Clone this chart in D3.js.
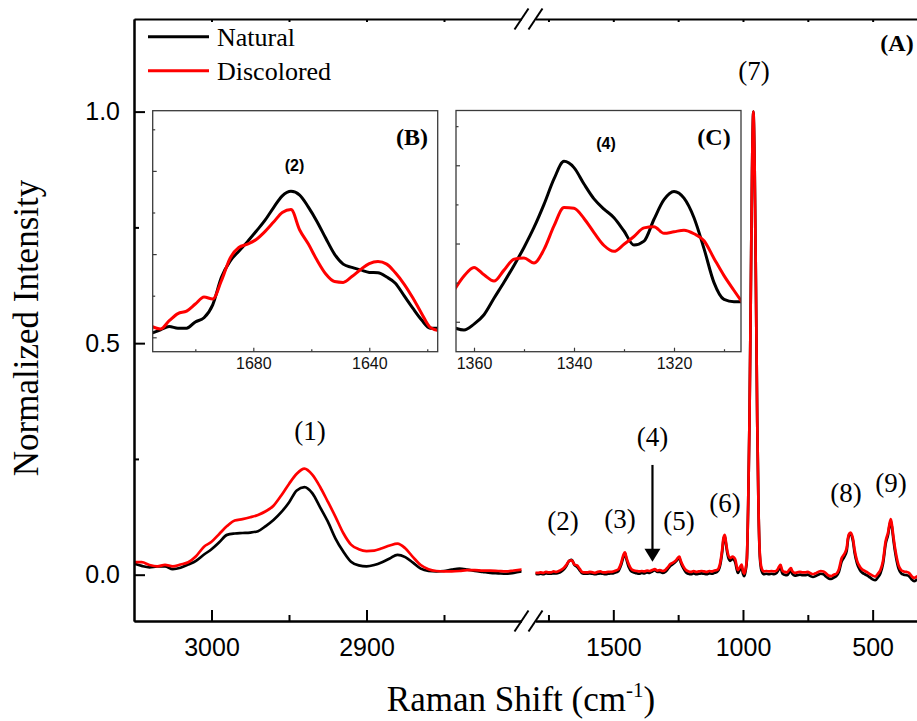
<!DOCTYPE html>
<html><head><meta charset="utf-8">
<script src="https://cdn.jsdelivr.net/npm/d3@7"></script>
<style>
html,body{margin:0;padding:0;background:#fff;}
svg{display:block;}
</style></head><body>
<svg id="chart" width="917" height="721"></svg>
<script>
// ---------------- DATA ----------------
const seriesNames = ["Natural", "Discolored"];
const seriesColors = ["#000000", "#ff0000"];

// Main panel, high-wavenumber segment (cm-1)
const leftWn = [3050,3045,3040,3035,3030,3025,3020,3015,3010,3005,3000,2995,2990,2985,2980,2975,2970,2965,2960,2955,2950,2945,2940,2935,2930,2925,2920,2915,2910,2905,2900,2895,2890,2885,2880,2875,2870,2865,2860,2855,2850,2845,2840,2835,2830,2825,2820,2815,2810,2805,2800];
const leftNatural = [0.024,0.019,0.016,0.018,0.018,0.012,0.015,0.022,0.030,0.043,0.055,0.070,0.086,0.089,0.090,0.091,0.094,0.105,0.118,0.135,0.156,0.182,0.189,0.176,0.146,0.115,0.078,0.050,0.028,0.020,0.018,0.021,0.027,0.035,0.043,0.038,0.026,0.013,0.008,0.007,0.008,0.011,0.013,0.011,0.008,0.006,0.004,0.003,0.002,0.004,0.007];
const leftDiscolored = [0.027,0.027,0.021,0.018,0.021,0.018,0.022,0.027,0.040,0.060,0.071,0.088,0.105,0.117,0.120,0.124,0.129,0.137,0.149,0.171,0.196,0.218,0.229,0.216,0.190,0.158,0.125,0.090,0.065,0.055,0.051,0.052,0.057,0.063,0.067,0.057,0.038,0.021,0.012,0.008,0.007,0.007,0.008,0.010,0.010,0.009,0.009,0.008,0.007,0.009,0.011];

// Main panel, fingerprint segment (cm-1)
const rightWn = [1800,1790,1780,1770,1760,1750,1740,1730,1720,1710,1700,1690,1680,1670,1660,1650,1640,1630,1620,1610,1600,1590,1580,1570,1560,1550,1540,1530,1520,1510,1500,1490,1480,1470,1460,1455,1450,1440,1430,1420,1410,1400,1390,1380,1370,1360,1350,1340,1330,1320,1310,1300,1290,1280,1270,1260,1250,1245,1240,1230,1220,1210,1200,1190,1180,1170,1160,1150,1140,1130,1120,1110,1100,1090,1080,1075,1070,1065,1060,1050,1040,1030,1020,1010,1005,1000,995,990,985,980,975,970,965,960,955,950,945,940,935,930,925,920,910,900,890,880,870,860,855,850,845,840,830,820,815,810,800,790,780,770,760,750,740,730,720,710,700,690,680,670,660,650,640,630,620,610,600,595,590,585,580,575,570,560,550,540,530,520,510,500,490,480,470,460,450,440,435,430,425,420,410,400,390,380,370,360,350,340,330];
const rightDiscolored = [0.004,0.004,0.005,0.004,0.006,0.005,0.005,0.007,0.006,0.008,0.011,0.015,0.022,0.030,0.031,0.022,0.020,0.013,0.006,0.005,0.005,0.006,0.005,0.004,0.006,0.007,0.005,0.005,0.006,0.006,0.007,0.009,0.012,0.025,0.044,0.048,0.038,0.022,0.012,0.009,0.008,0.007,0.008,0.007,0.009,0.008,0.010,0.012,0.009,0.010,0.008,0.010,0.016,0.023,0.026,0.030,0.037,0.039,0.030,0.018,0.010,0.007,0.006,0.008,0.006,0.007,0.008,0.007,0.006,0.008,0.007,0.009,0.010,0.020,0.055,0.080,0.086,0.068,0.050,0.036,0.039,0.033,0.010,0.018,0.022,0.008,0.002,0.012,0.035,0.150,0.330,0.600,0.870,1.000,0.880,0.620,0.330,0.140,0.045,0.018,0.010,0.007,0.008,0.007,0.008,0.007,0.009,0.018,0.021,0.012,0.007,0.006,0.005,0.012,0.014,0.008,0.004,0.005,0.006,0.005,0.005,0.006,0.003,0.001,0.003,0.006,0.008,0.007,0.003,-0.002,-0.003,0.000,0.002,0.012,0.035,0.044,0.058,0.080,0.089,0.091,0.086,0.075,0.055,0.030,0.018,0.011,0.008,0.005,0.001,-0.002,-0.004,0.002,0.010,0.030,0.072,0.093,0.110,0.120,0.105,0.082,0.045,0.020,0.010,0.007,0.006,0.004,-0.003,-0.007,-0.004];
const rightNatural = [0.002,0.001,0.002,0.001,0.003,0.002,0.002,0.003,0.003,0.004,0.007,0.012,0.020,0.030,0.032,0.021,0.017,0.010,0.003,0.002,0.002,0.003,0.002,0.001,0.002,0.003,0.002,0.001,0.002,0.003,0.003,0.005,0.008,0.021,0.040,0.046,0.035,0.016,0.007,0.005,0.003,0.002,0.004,0.003,0.005,0.004,0.007,0.010,0.006,0.006,0.004,0.006,0.012,0.019,0.023,0.028,0.034,0.036,0.027,0.014,0.005,0.002,0.001,0.003,0.001,0.002,0.003,0.002,0.001,0.003,0.002,0.004,0.006,0.016,0.050,0.076,0.083,0.064,0.045,0.030,0.034,0.027,0.004,0.013,0.016,0.002,-0.003,0.008,0.032,0.148,0.330,0.600,0.870,1.000,0.880,0.620,0.330,0.138,0.040,0.012,0.004,0.001,0.002,0.001,0.002,0.001,0.004,0.013,0.016,0.006,0.001,0.000,-0.001,0.006,0.009,0.002,-0.002,-0.001,0.000,-0.001,-0.001,0.000,-0.003,-0.005,-0.003,0.000,0.002,0.001,-0.004,-0.008,-0.009,-0.006,-0.003,0.006,0.028,0.038,0.052,0.076,0.087,0.089,0.083,0.070,0.049,0.024,0.011,0.004,0.001,-0.002,-0.006,-0.010,-0.012,-0.006,0.003,0.024,0.066,0.088,0.106,0.115,0.100,0.076,0.038,0.013,0.003,0.000,-0.001,-0.003,-0.010,-0.014,-0.011];

// Inset (B): amide I region
const insetBWn = [1715,1712,1709,1706,1703,1700,1697,1694,1691,1688,1685,1682,1679,1676,1673,1670,1667,1664,1661,1658,1655,1652,1649,1646,1643,1640,1637,1634,1631,1628,1625,1622,1619,1616];
const insetBNatural = [0.110,0.118,0.126,0.122,0.122,0.137,0.147,0.178,0.244,0.283,0.307,0.330,0.355,0.381,0.412,0.440,0.451,0.442,0.413,0.378,0.338,0.300,0.276,0.268,0.262,0.256,0.255,0.245,0.230,0.200,0.170,0.142,0.122,0.122];
const insetBDiscolored = [0.126,0.120,0.140,0.157,0.163,0.180,0.197,0.192,0.236,0.290,0.316,0.324,0.335,0.354,0.377,0.400,0.407,0.358,0.324,0.285,0.252,0.234,0.232,0.246,0.263,0.277,0.282,0.276,0.255,0.228,0.195,0.158,0.124,0.116];

// Inset (C): 1300-1365 region
const insetCWn = [1364,1362,1360,1358,1356,1354,1352,1350,1348,1346,1344,1342,1340,1338,1336,1334,1332,1330,1328,1326,1324,1322,1320,1318,1316,1314,1312,1310,1308,1306];
const insetCNatural = [0.085,0.079,0.094,0.118,0.160,0.201,0.244,0.290,0.341,0.400,0.465,0.510,0.494,0.452,0.414,0.388,0.366,0.332,0.296,0.306,0.362,0.412,0.433,0.416,0.366,0.287,0.200,0.157,0.151,0.151];
const insetCDiscolored = [0.180,0.217,0.239,0.220,0.204,0.232,0.260,0.263,0.250,0.285,0.345,0.392,0.390,0.364,0.328,0.295,0.280,0.298,0.318,0.340,0.343,0.326,0.330,0.334,0.325,0.307,0.262,0.218,0.180,0.143];

// Ticks
const yTicks = [0, 0.5, 1.0];
const yMinorTicks = [0.25, 0.75];
const xLeftTicks = [3000, 2900];
const xLeftMinorTicks = [2950, 2850];
const xRightTicks = [1500, 1000, 500];
const xRightMinorTicks = [1750, 1250, 750];
const insetBTicks = [1680, 1640];
const insetBMinorTicks = [1700, 1660, 1620];
const insetCTicks = [1360, 1340, 1320];
const insetCMinorTicks = [1350, 1330, 1310];
const insetYMajor = [0.1, 0.3, 0.5];
const insetYMinor = [0.2, 0.4, 0.6];

// Peak annotations (segment, wavenumber, intensity of label baseline)
const peakLabels = ["(1)","(2)","(3)","(4)","(5)","(6)","(7)","(8)","(9)"];
const peakSegment = ["L","R","R","R","R","R","R","R","R"];
const peakWn = [2936.5, 1694, 1474, 1349, 1247, 1069, 957.5, 603, 429];
const peakLabelY = [0.291, 0.0965, 0.101, 0.278, 0.0965, 0.135, 1.068, 0.156, 0.178];
const arrowWn = 1349;
const arrowFrom = 0.237, arrowTo = 0.028;

// ---------------- DRAWING ----------------
const svg = d3.select("#chart");
const SERIF = "'Liberation Serif','Times New Roman',serif";
const SANS = "'Liberation Sans',Arial,sans-serif";

const P = {left:134, top:19, bottom:621, right:917, breakL:521.5, breakR:535.5};
const xL = d3.scaleLinear().domain([3050, 2800]).range([P.left, P.breakL]);
const xR = d3.scaleLinear().domain([1800, 329]).range([P.breakR, P.right]);
const y = d3.scaleLinear().domain([-0.1, 1.2]).range([P.bottom, P.top]);

const defs = svg.append("defs");
defs.append("clipPath").attr("id","clipL").append("rect")
  .attr("x",P.left).attr("y",P.top).attr("width",P.breakL-P.left).attr("height",P.bottom-P.top);
defs.append("clipPath").attr("id","clipR").append("rect")
  .attr("x",P.breakR).attr("y",P.top).attr("width",P.right-P.breakR+5).attr("height",P.bottom-P.top);

function drawCurve(g, xs, ys, wn, vals, color, w) {
  const line = d3.line().x((d,i)=>xs(wn[i])).y(d=>ys(d)).curve(d3.curveMonotoneX);
  g.append("path").datum(vals).attr("d", line)
    .attr("fill","none").attr("stroke",color).attr("stroke-width",w)
    .attr("stroke-linejoin","round").attr("stroke-linecap","round");
}

const gL = svg.append("g").attr("clip-path","url(#clipL)");
drawCurve(gL, xL, y, leftWn, leftNatural, seriesColors[0], 2.7);
drawCurve(gL, xL, y, leftWn, leftDiscolored, seriesColors[1], 2.7);
const gR = svg.append("g").attr("clip-path","url(#clipR)");
drawCurve(gR, xR, y, rightWn, rightNatural, seriesColors[0], 2.7);
drawCurve(gR, xR, y, rightWn, rightDiscolored, seriesColors[1], 2.7);

function styleAxis(g, fs, family, sw) {
  g.selectAll("path.domain").attr("stroke","#000").attr("stroke-width",sw);
  g.selectAll(".tick line").attr("stroke","#000").attr("stroke-width",sw);
  g.selectAll("text").attr("font-family",family).attr("font-size",fs).attr("fill","#000");
}

// bottom axes
const bL = svg.append("g").attr("transform",`translate(0,${P.bottom})`)
  .call(d3.axisBottom(xL).tickValues(xLeftTicks).tickSize(-11).tickSizeOuter(0).tickPadding(17).tickFormat(d3.format("d")));
styleAxis(bL, 25, SANS, 2);
const bLm = svg.append("g").attr("transform",`translate(0,${P.bottom})`)
  .call(d3.axisBottom(xL).tickValues(xLeftMinorTicks).tickSize(-6).tickSizeOuter(0).tickFormat(""));
styleAxis(bLm, 25, SANS, 2);
const bR = svg.append("g").attr("transform",`translate(0,${P.bottom})`)
  .call(d3.axisBottom(xR).tickValues(xRightTicks).tickSize(-11).tickSizeOuter(0).tickPadding(17).tickFormat(d3.format("d")));
styleAxis(bR, 25, SANS, 2);
const bRm = svg.append("g").attr("transform",`translate(0,${P.bottom})`)
  .call(d3.axisBottom(xR).tickValues(xRightMinorTicks).tickSize(-6).tickSizeOuter(0).tickFormat(""));
styleAxis(bRm, 25, SANS, 2);

// top axes (mirror, no labels)
[[xL, xLeftTicks.concat(xLeftMinorTicks)], [xR, xRightTicks.concat(xRightMinorTicks)]].forEach(([sc, tv]) => {
  const t = svg.append("g").attr("transform",`translate(0,${P.top})`)
    .call(d3.axisTop(sc).tickValues(tv).tickSize(-3).tickSizeOuter(0).tickFormat(""));
  styleAxis(t, 10, SANS, 2);
});

// left axis
const lA = svg.append("g").attr("transform",`translate(${P.left},0)`)
  .call(d3.axisLeft(y).tickValues(yTicks).tickSize(-11).tickSizeOuter(0).tickPadding(14).tickFormat(d3.format(".1f")));
styleAxis(lA, 25, SANS, 2);
const lAm = svg.append("g").attr("transform",`translate(${P.left},0)`)
  .call(d3.axisLeft(y).tickValues(yMinorTicks).tickSize(-5).tickSizeOuter(0).tickFormat(""));
styleAxis(lAm, 25, SANS, 2);

// axis break marks
[P.breakL, P.breakR].forEach(bx => {
  [P.top, P.bottom].forEach(by => {
    svg.append("line").attr("x1",bx-7).attr("y1",by+10.5).attr("x2",bx+7).attr("y2",by-10.5)
      .attr("stroke","#000").attr("stroke-width",2);
  });
});

// axis titles
svg.append("text").attr("transform","translate(38,328) rotate(-90)")
  .attr("text-anchor","middle").attr("font-family",SERIF).attr("font-size",35)
  .text("Normalized Intensity");
const xt = svg.append("text").attr("x",521).attr("y",711)
  .attr("text-anchor","middle").attr("font-family",SERIF).attr("font-size",35);
xt.append("tspan").text("Raman Shift (cm");
xt.append("tspan").attr("dy",-14).attr("font-size",21).text("-1");
xt.append("tspan").attr("dy",14).text(")");

// legend
seriesNames.forEach((n,i) => {
  const ly = 36.7 + i*34;
  svg.append("line").attr("x1",148).attr("x2",209).attr("y1",ly).attr("y2",ly)
    .attr("stroke",seriesColors[i]).attr("stroke-width",3);
  svg.append("text").attr("x",217).attr("y",ly+9).attr("font-family",SERIF)
    .attr("font-size",26).text(n);
});

// (A)
svg.append("text").attr("x",897).attr("y",51).attr("text-anchor","middle")
  .attr("font-family",SERIF).attr("font-weight","bold").attr("font-size",24).text("(A)");

// peak labels
peakLabels.forEach((lab,i) => {
  const sx = peakSegment[i] === "L" ? xL : xR;
  svg.append("text").attr("x", sx(peakWn[i])).attr("y", y(peakLabelY[i]))
    .attr("text-anchor","middle").attr("font-family",SERIF).attr("font-size",27).text(lab);
});

// arrow for (4)
const ax = xR(arrowWn);
svg.append("line").attr("x1",ax).attr("x2",ax).attr("y1",y(arrowFrom)).attr("y2",y(arrowTo)-10)
  .attr("stroke","#000").attr("stroke-width",2.2);
svg.append("path")
  .attr("d",`M${ax-8},${y(arrowTo)-13}L${ax+8},${y(arrowTo)-13}L${ax},${y(arrowTo)}Z`)
  .attr("fill","#000");

// ---------------- INSETS ----------------
function drawInset(cfg) {
  const g = svg.append("g");
  const xs = d3.scaleLinear().domain(cfg.xDomain).range([cfg.x0, cfg.x1]);
  const ys = d3.scaleLinear().domain(cfg.yDomain).range([cfg.y1, cfg.y0]);
  g.append("rect").attr("x",cfg.x0).attr("y",cfg.y0).attr("width",cfg.x1-cfg.x0).attr("height",cfg.y1-cfg.y0)
    .attr("fill","#fff");
  const id = "clip" + cfg.name;
  defs.append("clipPath").attr("id",id).append("rect")
    .attr("x",cfg.x0).attr("y",cfg.y0).attr("width",cfg.x1-cfg.x0).attr("height",cfg.y1-cfg.y0);
  const gc = g.append("g").attr("clip-path",`url(#${id})`);
  drawCurve(gc, xs, ys, cfg.wn, cfg.nat, seriesColors[0], 3);
  drawCurve(gc, xs, ys, cfg.wn, cfg.dis, seriesColors[1], 3);
  g.append("rect").attr("x",cfg.x0).attr("y",cfg.y0).attr("width",cfg.x1-cfg.x0).attr("height",cfg.y1-cfg.y0)
    .attr("fill","none").attr("stroke","#3a3a3a").attr("stroke-width",1.3);
  const ax1 = g.append("g").attr("transform",`translate(0,${cfg.y1})`)
    .call(d3.axisBottom(xs).tickValues(cfg.ticks).tickSize(-4).tickSizeOuter(0).tickPadding(6).tickFormat(d3.format("d")));
  const ax2 = g.append("g").attr("transform",`translate(0,${cfg.y1})`)
    .call(d3.axisBottom(xs).tickValues(cfg.minor).tickSize(-2.5).tickSizeOuter(0).tickFormat(""));
  const ay1 = g.append("g").attr("transform",`translate(${cfg.x0},0)`)
    .call(d3.axisLeft(ys).tickValues(insetYMajor).tickSize(-4).tickSizeOuter(0).tickFormat(""));
  const ay2 = g.append("g").attr("transform",`translate(${cfg.x0},0)`)
    .call(d3.axisLeft(ys).tickValues(insetYMinor).tickSize(-2.5).tickSizeOuter(0).tickFormat(""));
  [ax1,ax2,ay1,ay2].forEach(a => {
    a.selectAll("path.domain").remove();
    a.selectAll(".tick line").attr("stroke","#3a3a3a").attr("stroke-width",1.2);
    a.selectAll("text").attr("font-family",SANS).attr("font-size",16).attr("fill","#111");
  });
  g.append("text").attr("x",cfg.tagX).attr("y",cfg.y0+34).attr("text-anchor","middle")
    .attr("font-family",SERIF).attr("font-weight","bold").attr("font-size",24).text(cfg.tag);
  g.append("text").attr("x",xs(cfg.peakWn)).attr("y",ys(cfg.peakY)).attr("text-anchor","middle")
    .attr("font-family",SANS).attr("font-weight","bold").attr("font-size",16).text(cfg.peakLabel);
}

drawInset({name:"B", x0:152.7, x1:437.7, y0:110.7, y1:351.7,
  xDomain:[1714.7, 1616.4], yDomain:[0.0654, 0.6447],
  wn:insetBWn, nat:insetBNatural, dis:insetBDiscolored,
  ticks:insetBTicks, minor:insetBMinorTicks, tag:"(B)", tagX:412,
  peakLabel:"(2)", peakWn:1665.8, peakY:0.5});
drawInset({name:"C", x0:456, x1:741, y0:110.5, y1:351.7,
  xDomain:[1363.6, 1306.6], yDomain:[0.0235, 0.64],
  wn:insetCWn, nat:insetCNatural, dis:insetCDiscolored,
  ticks:insetCTicks, minor:insetCMinorTicks, tag:"(C)", tagX:714,
  peakLabel:"(4)", peakWn:1333.6, peakY:0.5405});
</script>
</body></html>
